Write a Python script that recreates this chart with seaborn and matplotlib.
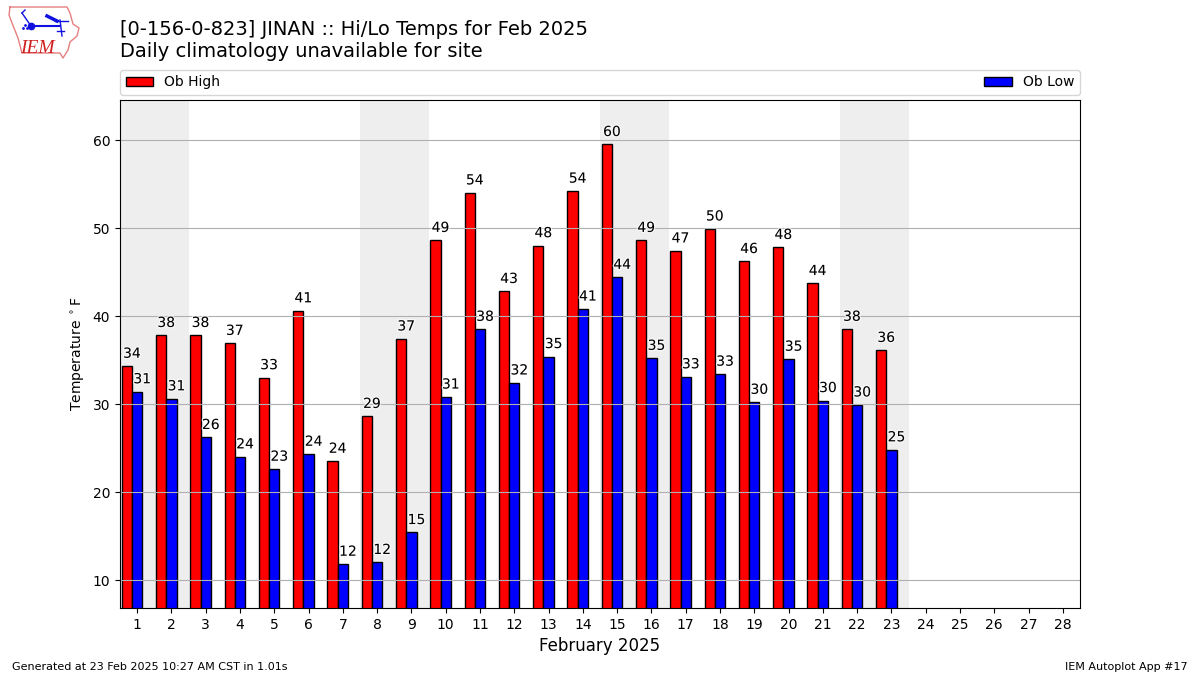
import matplotlib
matplotlib.use("Agg")
import matplotlib.pyplot as plt
import matplotlib.patheffects as pe
import pandas as pd
import seaborn as sns

days = list(range(1, 24))
all_days = list(range(1, 29))
highs = [34.3, 37.8, 37.8, 36.9, 33.0, 40.6, 23.5, 28.6, 37.4, 48.6, 54.0, 42.8,
         48.0, 54.2, 59.5, 48.6, 47.4, 49.9, 46.2, 47.8, 43.7, 38.5, 36.1]
lows = [31.4, 30.6, 26.2, 24.0, 22.6, 24.3, 11.8, 12.0, 15.4, 30.8, 38.5, 32.4,
        35.4, 40.8, 44.4, 35.2, 33.1, 33.4, 30.2, 35.1, 30.4, 29.9, 24.8]
weekends = [(1, 2), (8, 9), (15, 16), (22, 23)]
yticks = [10, 20, 30, 40, 50, 60]

# logo outline, in logo pixels
iowa_x = [10, 67, 70, 73, 79, 77, 70, 68, 63, 60, 22, 18, 12, 9, 10]
iowa_y = [7, 7, 13, 24, 28, 36, 42, 50, 58, 53, 53, 38, 23, 15, 7]

df = pd.DataFrame({
    "pos": [d - 0.15 for d in days] * 2,
    "temp": highs + lows,
    "kind": ["Ob High"] * len(days) + ["Ob Low"] * len(days),
})

fig = plt.figure(figsize=(12, 6.75), dpi=100)
ax = fig.add_axes([120 / 1200, 1 - 608 / 675, 960 / 1200, 508 / 675])

sns.barplot(data=df, x="pos", y="temp", hue="kind", native_scale=True,
            palette={"Ob High": "#ff0000", "Ob Low": "#0000ff"},
            width=0.6, gap=0, saturation=1, edgecolor="k", linewidth=1,
            errorbar=None, ax=ax)

for start, end in weekends:
    ax.axvspan(start - 0.5, end + 0.5, color="#eeeeee", lw=0, zorder=0)

ax.set_xlim(0.5, 28.5)
ax.set_ylim(6.82, 64.55)
ax.set_xticks(all_days)
ax.set_yticks(yticks)
ax.grid(axis="y", color="#b0b0b0", lw=0.8)
ax.set_axisbelow("line")
ax.set_xlabel("February 2025", fontsize=12)
ax.set_ylabel(r"Temperature $^\circ$F")

halo = [pe.withStroke(linewidth=2, foreground="white", alpha=0.6)]
for d, hi, lo in zip(days, highs, lows):
    ax.text(d - 0.41, hi + 0.62, f"{hi:.0f}", va="bottom", ha="left", path_effects=halo)
    ax.text(d - 0.11, lo + 0.62, f"{lo:.0f}", va="bottom", ha="left", path_effects=halo)

ax.legend(loc="lower left", bbox_to_anchor=(0, 1.01, 1, 0.05), mode="expand",
          ncol=2, borderaxespad=0, title=None)

fig.text(120 / 1200, 1 - 35 / 675, "[0-156-0-823] JINAN :: Hi/Lo Temps for Feb 2025", fontsize=14)
fig.text(120 / 1200, 1 - 57 / 675, "Daily climatology unavailable for site", fontsize=14)
fig.text(12 / 1200, 1 - 670 / 675, "Generated at 23 Feb 2025 10:27 AM CST in 1.01s", fontsize=8)
fig.text(1188 / 1200, 1 - 670 / 675, "IEM Autoplot App #17", fontsize=8, ha="right")

# rough redraw of the IEM logo
logo = fig.add_axes([0, 1 - 62 / 675, 85 / 1200, 62 / 675])
logo.set_xlim(0, 85)
logo.set_ylim(62, 0)
logo.axis("off")
logo.plot(iowa_x, iowa_y, color="#e58080", lw=1)
logo.plot([31, 60], [26, 26], color="#1010e0", lw=1.5)
logo.plot([22, 31], [13, 26], color="#1010e0", lw=1)
logo.plot([22, 25], [13, 10], color="#1010e0", lw=1)
logo.plot([47, 57], [16, 21], color="#1010e0", lw=2.5)
logo.plot([55, 68], [21, 21], color="#1010e0", lw=1)
logo.plot([60, 62], [20, 36], color="#1010e0", lw=1)
logo.plot([57, 64], [31, 31], color="#1010e0", lw=1)
logo.plot([31], [26], "o", color="#1010e0", ms=4.5)
logo.plot([23, 25, 27], [28, 25, 28], ".", color="#1010e0", ms=2)
logo.text(20, 53, "IEM", color="#d02020", fontsize=14, family="Liberation Serif", style="italic")

fig.savefig("out.png", dpi=100)
